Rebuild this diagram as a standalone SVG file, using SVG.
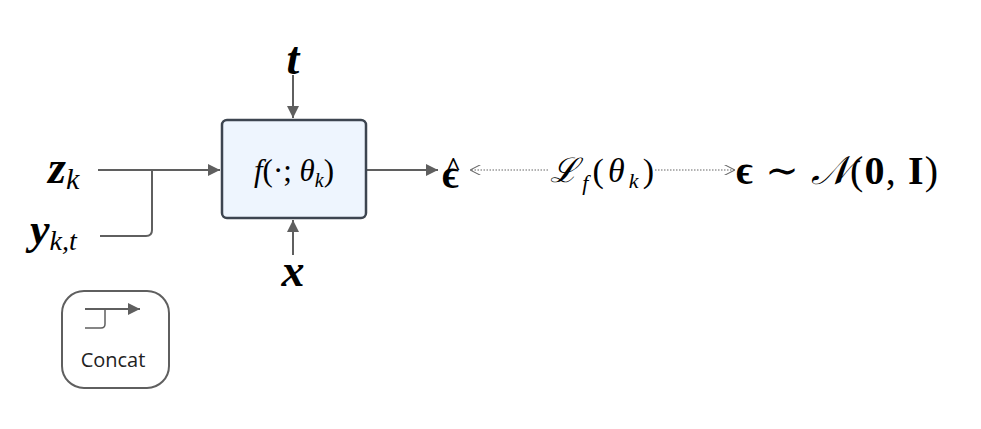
<svg xmlns="http://www.w3.org/2000/svg" width="981" height="429" viewBox="0 0 981 429">
<style>
.m{font-family:"Liberation Serif","DejaVu Serif",serif;fill:#000}
.bi{font-weight:bold;font-style:italic}
.it{font-style:italic}
.ln{stroke:#5f5f5f;stroke-width:2;fill:none}
.dt{stroke:#666;stroke-width:1.2;stroke-dasharray:1.5 1.5;fill:none}
</style>
<defs>
<marker id="a" viewBox="0 0 10 10" refX="10" refY="5" markerWidth="6" markerHeight="6" orient="auto"><path d="M0,0L10,5L0,10z" fill="#5f5f5f"/></marker>
<marker id="o" viewBox="0 0 10 10" refX="10" refY="5" markerWidth="9" markerHeight="9" orient="auto-start-reverse"><path d="M0,0L10,5L0,10" fill="none" stroke="#666" stroke-width="1"/></marker>
</defs>
<rect width="981" height="429" fill="#fff"/>
<g id="connectors">
<path class="ln" d="M98,170H220" marker-end="url(#a)"/>
<path class="ln" d="M100,236H146Q152,236 152,230V170"/>
<path class="ln" d="M293,75V118" marker-end="url(#a)"/>
<path class="ln" d="M293,255V220" marker-end="url(#a)"/>
<path class="ln" d="M367,170H438" marker-end="url(#a)"/>
<path class="dt" d="M548,170H470" marker-end="url(#o)"/>
<path class="dt" d="M655,170H735" marker-end="url(#o)"/>
</g>
<g id="f"><rect x="222" y="120" width="144" height="98" rx="5" fill="#eef5fe" stroke="#3d4550" stroke-width="2.5"/>
<text class="m" x="294" y="181" font-size="31" text-anchor="middle"><tspan class="it">f</tspan>(·; <tspan class="it">θ</tspan><tspan class="it" font-size="20" dy="6">k</tspan><tspan dy="-6">)</tspan></text></g>
<g id="t"><text class="m bi" x="293" y="74" font-size="46" text-anchor="middle">t</text></g>
<g id="x"><text class="m bi" x="293" y="286" font-size="46" text-anchor="middle">x</text></g>
<g id="zk"><text class="m bi" x="48" y="183" font-size="46">z<tspan class="it" font-size="30" dy="6" font-weight="normal">k</tspan></text></g>
<g id="ykt"><text class="m bi" x="30" y="244" font-size="44">y<tspan class="it" font-size="28" dy="6" font-weight="normal">k,t</tspan></text></g>
<g id="epshat"><text class="m" x="442" y="188" font-size="40" font-weight="bold">ϵ<tspan dx="-13" dy="-13" font-size="26">^</tspan></text></g>
<g id="loss"><text class="m" textLength="104" x="550" y="182" font-size="34"><tspan class="it">ℒ</tspan><tspan class="it" font-size="22" dy="8">f</tspan><tspan dy="-8">(</tspan><tspan class="it">θ</tspan><tspan class="it" font-size="22" dy="6">k</tspan><tspan dy="-6">)</tspan></text></g>
<g id="eps"><text class="m" x="736" y="184" font-size="40" textLength="202"><tspan font-weight="bold">ϵ</tspan> ∼ <tspan class="it">𝒩</tspan>(<tspan font-weight="bold">0</tspan>, <tspan font-weight="bold">I</tspan>)</text></g>
<g id="concat"><rect x="62" y="291" width="107" height="97" rx="22" fill="#fff" stroke="#5f5f5f" stroke-width="2"/>
<path class="ln" d="M85,309H140" marker-end="url(#a)" stroke-width="1.5"/>
<path d="M85,328H101Q105,328 105,324V309" fill="none" stroke="#5f5f5f" stroke-width="1.5"/>
<text x="113" y="367" font-family="Open Sans,sans-serif" font-size="20" text-anchor="middle" fill="#222">Concat</text></g>
</svg>
